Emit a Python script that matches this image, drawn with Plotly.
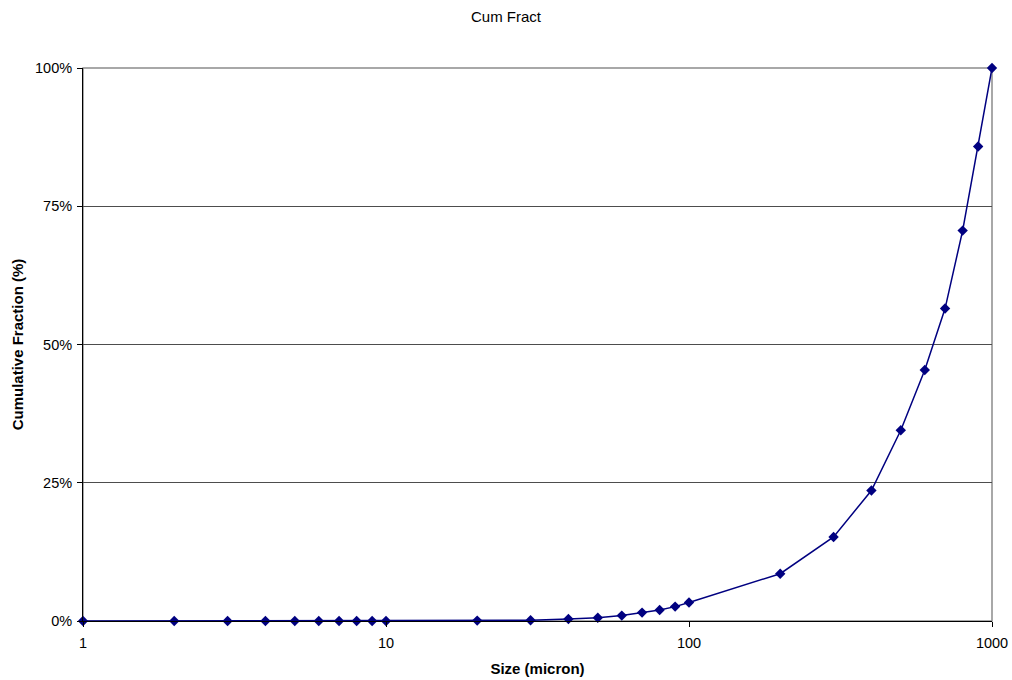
import plotly.graph_objects as go

sizes = [1, 2, 3, 4, 5, 6, 7, 8, 9, 10,
         20, 30, 40, 50, 60, 70, 80, 90, 100,
         200, 300, 400, 500, 600, 700, 800, 900, 1000]
cum_fraction = [0, 0, 0, 0, 0, 0, 0, 0, 0, 0,
                0.0007, 0.0013, 0.0036, 0.006, 0.0098, 0.0152, 0.020, 0.026, 0.0335,
                0.0855, 0.152, 0.236, 0.345, 0.454, 0.565, 0.706, 0.858, 1.0]
y_ticks = [0, 0.25, 0.5, 0.75, 1.0]
x_ticks = [1, 10, 100, 1000]

fig = go.Figure()
fig.add_trace(go.Scatter(
    x=sizes, y=cum_fraction, mode="lines+markers",
    line=dict(color="#000080", width=1.5),
    marker=dict(symbol="diamond", size=8, color="#000080"),
    cliponaxis=False, showlegend=False,
))

fig.add_shape(type="rect", xref="paper", yref="paper", x0=0, y0=0, x1=1, y1=1,
              line=dict(color="#8c8c8c", width=1.5), layer="below")

font = "Liberation Sans, Arial, sans-serif"
fig.update_layout(
    width=1012, height=680,
    margin=dict(l=83, r=20, t=68, b=59, autoexpand=False),
    paper_bgcolor="white", plot_bgcolor="white",
    font=dict(family=font, size=14, color="black"),
    title=dict(text="Cum Fract", x=0.5, xanchor="center", xref="container",
               y=1 - 17 / 680, yref="container", yanchor="middle",
               font=dict(size=15, family=font), automargin=False),
    xaxis=dict(type="log", range=[0, 3], tickvals=x_ticks, ticktext=[str(v) for v in x_ticks],
               showgrid=False, showline=True, linecolor="black", linewidth=1,
               ticks="outside", ticklen=5, tickcolor="black", ticklabelstandoff=4,
               tickfont=dict(size=14.5), automargin=False,
               title=dict(text="<b>Size (micron)</b>", standoff=13, font=dict(size=15)),
               zeroline=False),
    yaxis=dict(range=[0, 1], tickvals=y_ticks, tickformat=".0%",
               showgrid=True, gridcolor="#4d4d4d", gridwidth=1,
               showline=True, linecolor="black", linewidth=1,
               ticks="outside", ticklen=5, tickcolor="black", ticklabelstandoff=2,
               tickfont=dict(size=14.5), automargin=False,
               title=dict(text="<b>Cumulative Fraction (%)</b>", standoff=7, font=dict(size=15)),
               zeroline=False),
)

fig.write_html("out.html", config={"displayModeBar": False},
               post_script="document.body.style.margin='0';")
